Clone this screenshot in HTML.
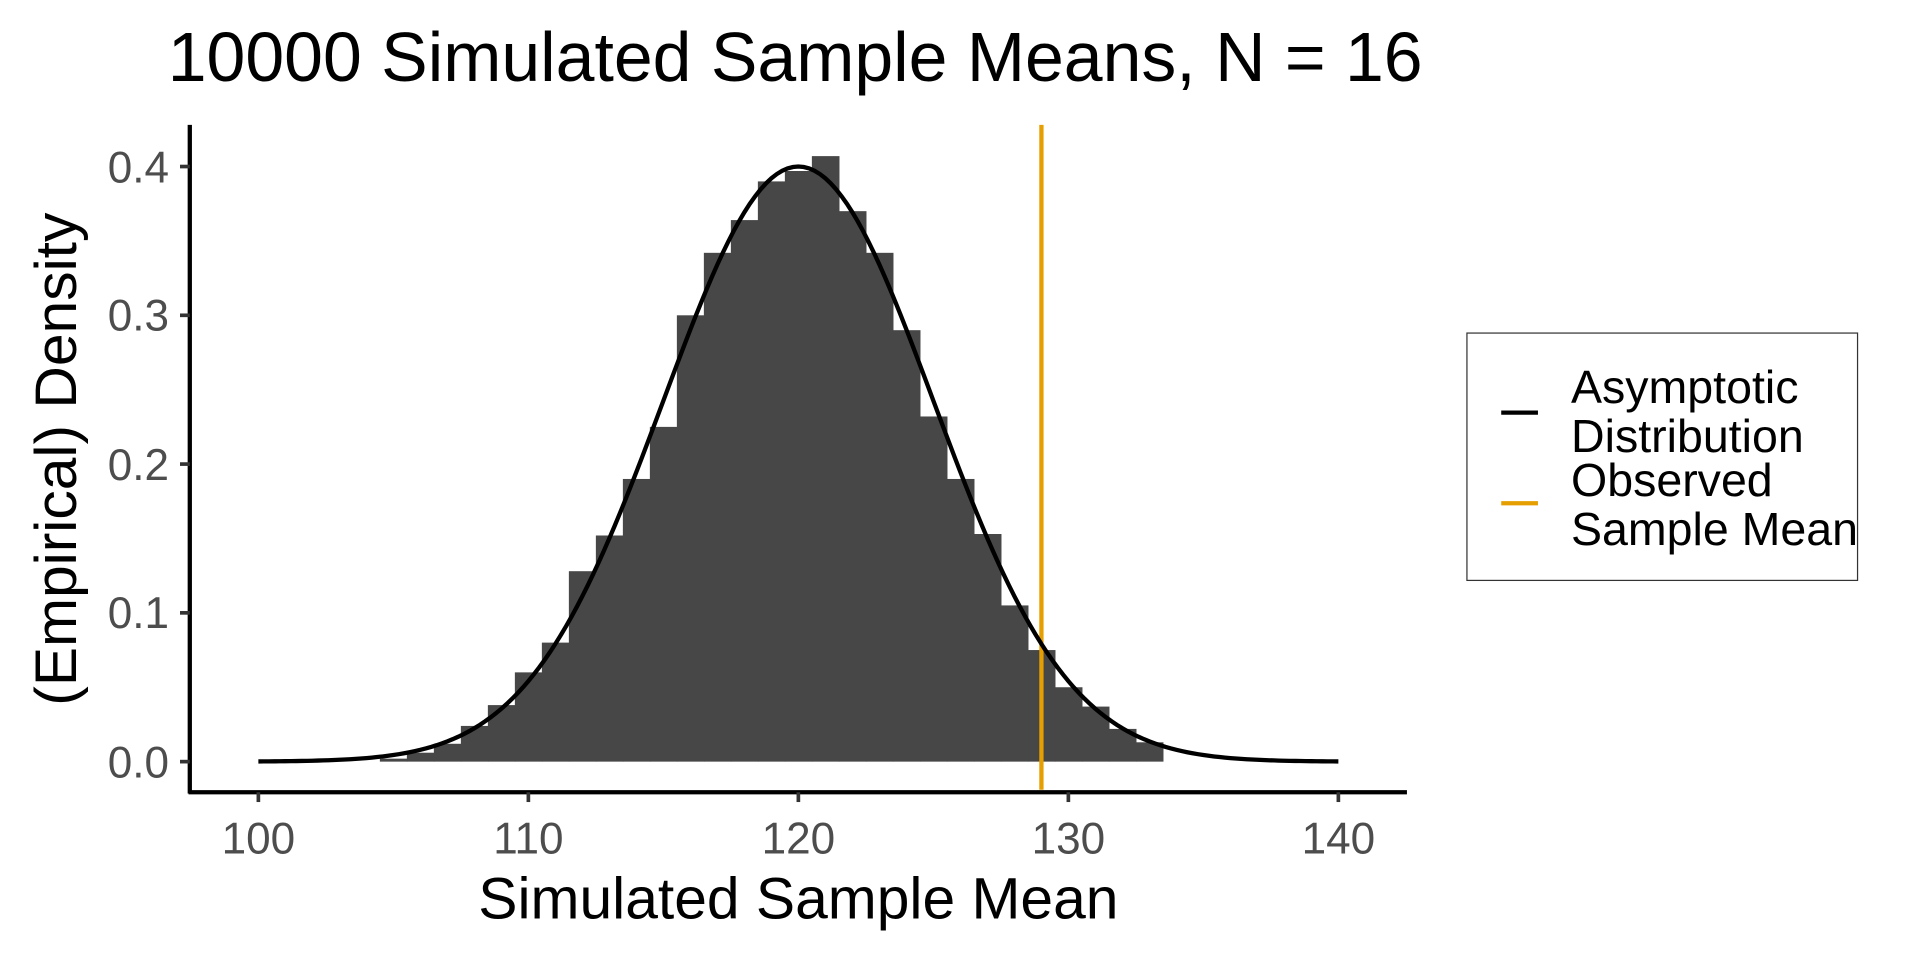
<!DOCTYPE html>
<html><head><meta charset="utf-8"><style>html,body{margin:0;padding:0;background:#fff}svg{display:block}</style></head>
<body>
<svg width="1920" height="960" viewBox="0 0 1568 784" xmlns="http://www.w3.org/2000/svg" font-family="Liberation Sans, Arial, sans-serif">
<rect width="1568" height="784" fill="#fff"/>
<text x="137" y="66" font-size="57" fill="#000">10000 Simulated Sample Means, N = 16</text>
<g id="bars" fill="#474747"></g>
<line x1="850.5" y1="102" x2="850.5" y2="645" stroke="#E69F00" stroke-width="3.5"/>
<path id="curve" fill="none" stroke="#000" stroke-width="3.5"/>
<line x1="155" y1="102" x2="155" y2="648" stroke="#000" stroke-width="3.5"/>
<line x1="154" y1="647" x2="1149" y2="647" stroke="#000" stroke-width="3.5"/>
<g stroke="#333" stroke-width="3">
<line x1="147" y1="622" x2="155" y2="622"/><line x1="147" y1="500.5" x2="155" y2="500.5"/><line x1="147" y1="379" x2="155" y2="379"/><line x1="147" y1="257.5" x2="155" y2="257.5"/><line x1="147" y1="136" x2="155" y2="136"/>
<line x1="211" y1="647" x2="211" y2="655"/><line x1="431.5" y1="647" x2="431.5" y2="655"/><line x1="652" y1="647" x2="652" y2="655"/><line x1="872.5" y1="647" x2="872.5" y2="655"/><line x1="1093" y1="647" x2="1093" y2="655"/>
</g>
<g font-size="36" fill="#4d4d4d" text-anchor="end">
<text x="138" y="635">0.0</text><text x="138" y="513">0.1</text><text x="138" y="392">0.2</text><text x="138" y="270">0.3</text><text x="138" y="149">0.4</text>
</g>
<g font-size="36" fill="#4d4d4d" text-anchor="middle">
<text x="211" y="697">100</text><text x="431.5" y="697">110</text><text x="652" y="697">120</text><text x="872.5" y="697">130</text><text x="1093" y="697">140</text>
</g>
<text x="652" y="750" font-size="48" text-anchor="middle" fill="#000">Simulated Sample Mean</text>
<text transform="translate(62,375) rotate(-90)" font-size="48" text-anchor="middle" fill="#000">(Empirical) Density</text>
<rect x="1198" y="272" width="319" height="202" fill="#fff" stroke="#333" stroke-width="1"/>
<line x1="1226" y1="337" x2="1256" y2="337" stroke="#000" stroke-width="3.5"/>
<line x1="1226" y1="411" x2="1256" y2="411" stroke="#E69F00" stroke-width="3.5"/>
<g font-size="38" fill="#000">
<text x="1283" y="329">Asymptotic</text><text x="1283" y="369">Distribution</text>
<text x="1283" y="405">Observed</text><text x="1283" y="445">Sample Mean</text>
</g>
</svg>
<script>
(function(){
var ns="http://www.w3.org/2000/svg";
var X=function(v){return 211+(v-100)*22.05},Y=function(d){return 622-d*1215};
var edges=[[105.5,0.002],[106.5,0.006],[107.5,0.012],[108.5,0.024],[109.5,0.038],[110.5,0.06],[111.5,0.08],[112.5,0.128],[113.5,0.152],[114.5,0.19],[115.5,0.225],[116.5,0.3],[117.5,0.342],[118.5,0.364],[119.5,0.39],[120.5,0.397],[121.5,0.407],[122.5,0.37],[123.5,0.342],[124.5,0.29],[125.5,0.232],[126.5,0.19],[127.5,0.153],[128.5,0.105],[129.5,0.075],[130.5,0.05],[131.5,0.037],[132.5,0.022],[133.5,0.013]];
var g=document.getElementById("bars");
edges.forEach(function(e){var r=document.createElementNS(ns,"rect");var x0=X(e[0]-1),x1=X(e[0]);
r.setAttribute("x",x0);r.setAttribute("width",x1-x0+0.5);r.setAttribute("y",Y(e[1]));r.setAttribute("height",e[1]*1215);g.appendChild(r);});
var d="";for(var v=100;v<=140.001;v+=0.2){var y=0.4*Math.exp(-Math.pow(v-120,2)/50);d+=(d?"L":"M")+X(v).toFixed(2)+","+Y(y).toFixed(2);}
document.getElementById("curve").setAttribute("d",d);
})();
</script>
</body></html>
